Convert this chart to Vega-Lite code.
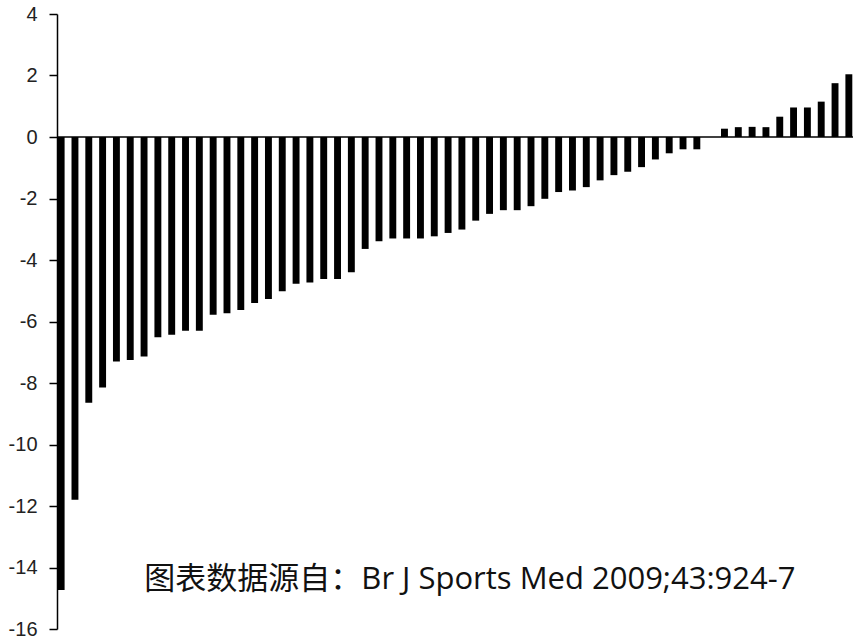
{
  "$schema": "https://vega.github.io/schema/vega-lite/v6.json",
  "width": 796,
  "height": 615,
  "autosize": {"type": "none"},
  "padding": {"left": 57, "top": 14, "right": 7, "bottom": 10},
  "background": "white",
  "config": {"view": {"stroke": null}},
  "datasets": {
    "bars": [
      {"i": 1, "v": -14.73}, {"i": 2, "v": -11.8}, {"i": 3, "v": -8.64}, {"i": 4, "v": -8.15},
      {"i": 5, "v": -7.30}, {"i": 6, "v": -7.25}, {"i": 7, "v": -7.14}, {"i": 8, "v": -6.51},
      {"i": 9, "v": -6.43}, {"i": 10, "v": -6.30}, {"i": 11, "v": -6.30}, {"i": 12, "v": -5.78},
      {"i": 13, "v": -5.73}, {"i": 14, "v": -5.63}, {"i": 15, "v": -5.40}, {"i": 16, "v": -5.27},
      {"i": 17, "v": -5.02}, {"i": 18, "v": -4.77}, {"i": 19, "v": -4.73}, {"i": 20, "v": -4.62},
      {"i": 21, "v": -4.62}, {"i": 22, "v": -4.40}, {"i": 23, "v": -3.64}, {"i": 24, "v": -3.39},
      {"i": 25, "v": -3.30}, {"i": 26, "v": -3.30}, {"i": 27, "v": -3.30}, {"i": 28, "v": -3.23},
      {"i": 29, "v": -3.12}, {"i": 30, "v": -3.01}, {"i": 31, "v": -2.72}, {"i": 32, "v": -2.50},
      {"i": 33, "v": -2.38}, {"i": 34, "v": -2.38}, {"i": 35, "v": -2.25}, {"i": 36, "v": -2.01},
      {"i": 37, "v": -1.79}, {"i": 38, "v": -1.74}, {"i": 39, "v": -1.63}, {"i": 40, "v": -1.41},
      {"i": 41, "v": -1.24}, {"i": 42, "v": -1.13}, {"i": 43, "v": -0.98}, {"i": 44, "v": -0.73},
      {"i": 45, "v": -0.53}, {"i": 46, "v": -0.40}, {"i": 47, "v": -0.40}, {"i": 48, "v": 0},
      {"i": 49, "v": 0.27}, {"i": 50, "v": 0.32}, {"i": 51, "v": 0.33}, {"i": 52, "v": 0.32},
      {"i": 53, "v": 0.66}, {"i": 54, "v": 0.96}, {"i": 55, "v": 0.96}, {"i": 56, "v": 1.15},
      {"i": 57, "v": 1.75}, {"i": 58, "v": 2.04}
    ],
    "note": [
      {"i": 30, "y": -14.4, "label": "图表数据源自：Br J Sports Med 2009;43:924-7"}
    ]
  },
  "encoding": {
    "x": {
      "field": "i", "type": "ordinal", "sort": null,
      "scale": {"paddingInner": 0.5, "paddingOuter": 0.05},
      "axis": null
    }
  },
  "layer": [
    {
      "data": {"name": "bars"},
      "mark": {"type": "bar", "color": "black"},
      "encoding": {
        "y": {
          "field": "v", "type": "quantitative",
          "scale": {"domain": [-16, 4], "nice": false, "zero": true},
          "axis": {
            "values": [-16, -14, -12, -10, -8, -6, -4, -2, 0, 2, 4],
            "labelExpr": "'' + datum.value",
            "title": null, "grid": false,
            "domainColor": "black", "domainWidth": 1.5,
            "tickColor": "black", "tickSize": 8, "tickWidth": 1.5,
            "labelFont": "Liberation Sans", "labelFontSize": 20,
            "labelColor": "#222", "labelPadding": 12
          }
        },
        "y2": {"datum": 0}
      }
    },
    {
      "data": {"values": [{}]},
      "mark": {"type": "rule", "color": "black", "strokeWidth": 1.5},
      "encoding": {"y": {"datum": 0}, "x": null}
    },
    {
      "data": {"name": "note"},
      "mark": {"type": "text", "font": "Open Sans, Noto Sans CJK SC", "fontSize": 31, "color": "#111", "baseline": "middle", "align": "center", "dx": 8},
      "encoding": {
        "x": {"field": "i", "type": "ordinal"},
        "y": {"field": "y", "type": "quantitative"},
        "text": {"field": "label"}
      }
    }
  ]
}
